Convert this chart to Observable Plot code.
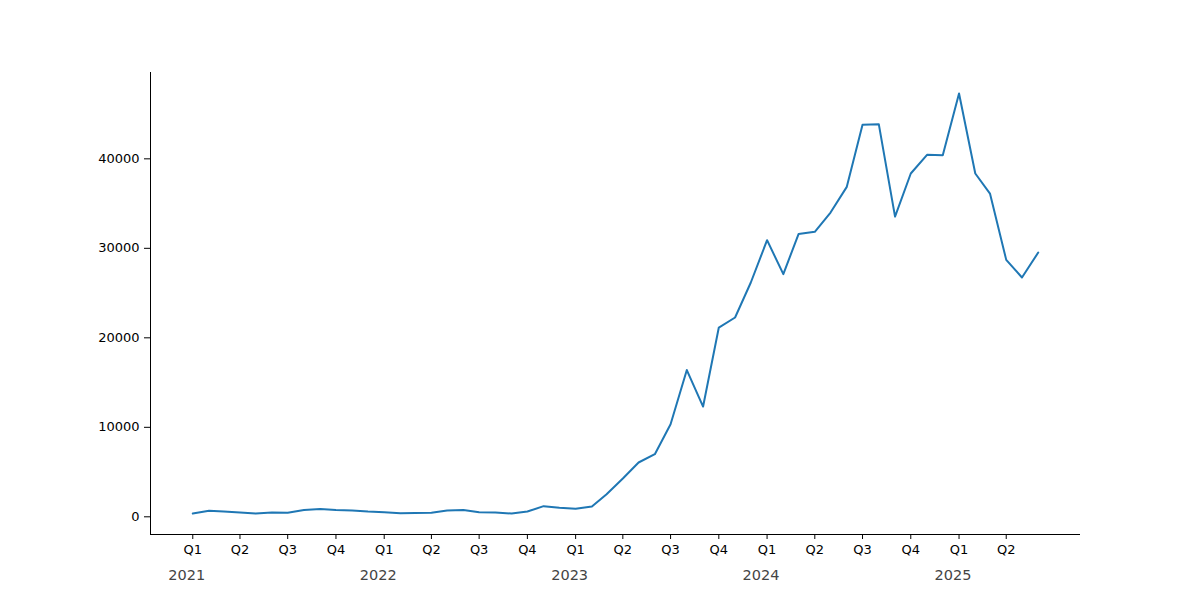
<!DOCTYPE html>
<html>
<head>
<meta charset="utf-8">
<script src="https://cdn.jsdelivr.net/npm/d3@7"></script>
<script src="https://cdn.jsdelivr.net/npm/@observablehq/plot@0.6"></script>
<style>
  html, body { margin: 0; padding: 0; background: #fff; }
  #chart svg { display: block; }
</style>
</head>
<body>
<div id="chart"></div>
<script>
// Monthly series, Jan 2021 – Jun 2025
const startMonth = "2021-01-01";
const values = [
  370, 670, 590, 480, 370, 480, 450, 750, 860, 750, 710, 580,
  500, 410, 430, 450, 700, 750, 520, 490, 370, 590, 1190, 1000,
  900, 1150, 2530, 4280, 6070, 7000, 10350, 16400, 12320, 21150, 22270, 26180,
  30910, 27120, 31590, 31840, 34000, 36870, 43800, 43870, 33550, 38360, 40450, 40400,
  47300, 38360, 36120, 28710, 26740, 29530
];
const yTicks = [0, 10000, 20000, 30000, 40000];
const quarterLabels = ["Q1", "Q2", "Q3", "Q4"];
const yearLabels = ["2021", "2022", "2023", "2024", "2025"];

const start = new Date(startMonth + "T00:00:00Z");
const months = d3.utcMonth.range(start, d3.utcMonth.offset(start, values.length));
const data = values.map((v, i) => ({date: months[i], value: v}));

// matplotlib-like 5% margins
const xExt = d3.extent(months, d => +d);
const xPad = (xExt[1] - xExt[0]) * 0.05;
const xDomain = [new Date(xExt[0] - xPad), new Date(xExt[1] + xPad)];
const yExt = d3.extent(values);
const yPad = (yExt[1] - yExt[0]) * 0.05;
const yDomain = [yExt[0] - yPad, yExt[1] + yPad];

const quarters = months.filter(d => d.getUTCMonth() % 3 === 0);
const yearDates = yearLabels.map(y => new Date(y + "-01-01T00:00:00Z"));

const chart = Plot.plot({
  width: 1200,
  height: 600,
  marginLeft: 150,
  marginRight: 120,
  marginTop: 72,
  marginBottom: 66,
  style: {fontFamily: "'DejaVu Sans', sans-serif", fontSize: "13px", color: "#000", background: "#fff"},
  x: {type: "utc", domain: xDomain},
  y: {domain: yDomain},
  marks: [
    Plot.ruleX([xDomain[0]], {stroke: "#000", strokeWidth: 1}),
    Plot.ruleY([yDomain[0]], {stroke: "#000", strokeWidth: 1}),
    Plot.axisY({ticks: yTicks, tickSize: 6, tickPadding: 5, tickFormat: d3.format("d"), label: null, fontSize: 13}),
    Plot.axisX({ticks: quarters, tickSize: 5, tickPadding: 5, tickFormat: d => quarterLabels[Math.floor(d.getUTCMonth() / 3)], label: null, fontSize: 13}),
    Plot.text(yearDates, {x: d => d, text: (d, i) => yearLabels[i], frameAnchor: "bottom", dy: 45, dx: -6, fontSize: 14.5, fill: "#444"}),
    Plot.line(data, {x: "date", y: "value", stroke: "#1f77b4", strokeWidth: 2})
  ]
});
document.getElementById("chart").appendChild(chart);
</script>
</body>
</html>
